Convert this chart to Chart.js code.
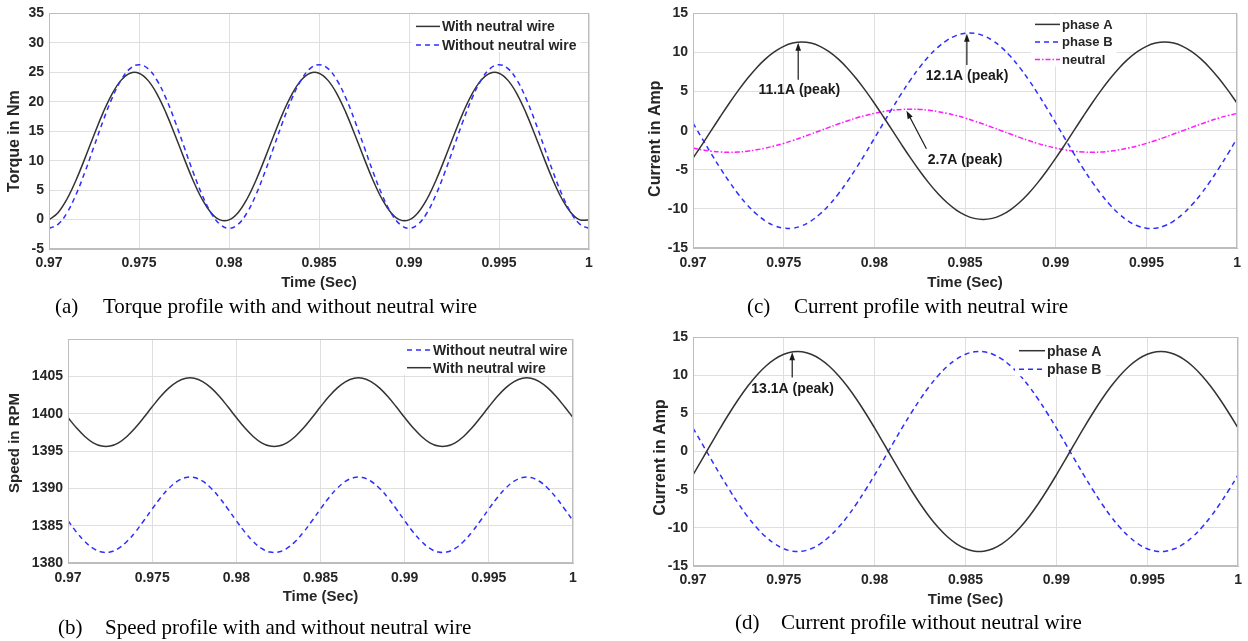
<!DOCTYPE html>
<html>
<head>
<meta charset="utf-8">
<script src="https://cdn.jsdelivr.net/npm/chart.js@4.4.1/dist/chart.umd.min.js"></script>
<style>
  html, body { margin: 0; background: #fff; }
  #page { position: relative; width: 1248px; height: 641px; overflow: hidden; }
  .panel { position: absolute; }
  .cap { position: absolute; font: 21px "Liberation Serif", "Times New Roman", serif; line-height: 24px; color: #000; white-space: nowrap; }
</style>
</head>
<body>
<div id="page">
  <div class="panel" style="left:0;top:0"><canvas id="torque" width="620" height="300"></canvas></div>
  <div class="panel" style="left:620px;top:0"><canvas id="withN" width="628" height="300"></canvas></div>
  <div class="panel" style="left:0;top:320px"><canvas id="speed" width="620" height="321"></canvas></div>
  <div class="panel" style="left:620px;top:320px"><canvas id="noN" width="628" height="321"></canvas></div>

  <div class="cap" style="left:55px;top:294px">(a)</div>
  <div class="cap" style="left:103px;top:294px">Torque profile with and without neutral wire</div>
  <div class="cap" style="left:58px;top:615px">(b)</div>
  <div class="cap" style="left:105px;top:615px">Speed profile with and without neutral wire</div>
  <div class="cap" style="left:747px;top:294px">(c)</div>
  <div class="cap" style="left:794px;top:294px">Current profile with neutral wire</div>
  <div class="cap" style="left:735px;top:610px">(d)</div>
  <div class="cap" style="left:781px;top:610px">Current profile without neutral wire</div>
</div>
<script>
// sample instants (s)
const time = [0.9700, 0.9705, 0.9710, 0.9715, 0.9720, 0.9725, 0.9730, 0.9735, 0.9740, 0.9745,
  0.9750, 0.9755, 0.9760, 0.9765, 0.9770, 0.9775, 0.9780, 0.9785, 0.9790, 0.9795,
  0.9800, 0.9805, 0.9810, 0.9815, 0.9820, 0.9825, 0.9830, 0.9835, 0.9840, 0.9845,
  0.9850, 0.9855, 0.9860, 0.9865, 0.9870, 0.9875, 0.9880, 0.9885, 0.9890, 0.9895,
  0.9900, 0.9905, 0.9910, 0.9915, 0.9920, 0.9925, 0.9930, 0.9935, 0.9940, 0.9945,
  0.9950, 0.9955, 0.9960, 0.9965, 0.9970, 0.9975, 0.9980, 0.9985, 0.9990, 0.9995, 1.0000];

const xTicks = [0.97, 0.975, 0.98, 0.985, 0.99, 0.995, 1];
const torqueTicks = [-5, 0, 5, 10, 15, 20, 25, 30, 35];
const speedTicks = [1380, 1385, 1390, 1395, 1400, 1405];
const currentTicks = [-15, -10, -5, 0, 5, 10, 15];

// (a) torque, Nm
const torqueWith = [-0.05, 1.17, 3.49, 6.68, 10.43, 14.37, 18.12, 21.31, 23.63, 24.85, 24.85, 23.63, 21.31, 18.12, 14.37, 10.43, 6.68, 3.49, 1.17, -0.05,
  -0.05, 1.17, 3.49, 6.68, 10.43, 14.37, 18.12, 21.31, 23.63, 24.85, 24.85, 23.63, 21.31, 18.12, 14.37, 10.43, 6.68, 3.49, 1.17, -0.05,
  -0.05, 1.17, 3.49, 6.68, 10.43, 14.37, 18.12, 21.31, 23.63, 24.85, 24.85, 23.63, 21.31, 18.12, 14.37, 10.43, 6.68, 3.49, 1.17, -0.05, -0.05];
const torqueWithout = [-1.5, -0.82, 1.15, 4.23, 8.10, 12.4, 16.70, 20.57, 23.65, 25.62, 26.3, 25.62, 23.65, 20.57, 16.70, 12.4, 8.10, 4.23, 1.15, -0.82,
  -1.5, -0.82, 1.15, 4.23, 8.10, 12.4, 16.70, 20.57, 23.65, 25.62, 26.3, 25.62, 23.65, 20.57, 16.70, 12.4, 8.10, 4.23, 1.15, -0.82,
  -1.5, -0.82, 1.15, 4.23, 8.10, 12.4, 16.70, 20.57, 23.65, 25.62, 26.3, 25.62, 23.65, 20.57, 16.70, 12.4, 8.10, 4.23, 1.15, -0.82, -1.5];

// (b) speed, RPM
const speedWithout = [1385.66, 1384.16, 1382.88, 1381.95, 1381.46, 1381.46, 1381.95, 1382.88, 1384.16, 1385.66, 1387.24, 1388.74, 1390.02, 1390.95, 1391.44, 1391.44, 1390.95, 1390.02, 1388.74, 1387.24,
  1385.66, 1384.16, 1382.88, 1381.95, 1381.46, 1381.46, 1381.95, 1382.88, 1384.16, 1385.66, 1387.24, 1388.74, 1390.02, 1390.95, 1391.44, 1391.44, 1390.95, 1390.02, 1388.74, 1387.24,
  1385.66, 1384.16, 1382.88, 1381.95, 1381.46, 1381.46, 1381.95, 1382.88, 1384.16, 1385.66, 1387.24, 1388.74, 1390.02, 1390.95, 1391.44, 1391.44, 1390.95, 1390.02, 1388.74, 1387.24, 1385.66];
const speedWith = [1399.48, 1398.11, 1396.95, 1396.10, 1395.66, 1395.66, 1396.10, 1396.95, 1398.11, 1399.48, 1400.92, 1402.29, 1403.45, 1404.30, 1404.74, 1404.74, 1404.30, 1403.45, 1402.29, 1400.92,
  1399.48, 1398.11, 1396.95, 1396.10, 1395.66, 1395.66, 1396.10, 1396.95, 1398.11, 1399.48, 1400.92, 1402.29, 1403.45, 1404.30, 1404.74, 1404.74, 1404.30, 1403.45, 1402.29, 1400.92,
  1399.48, 1398.11, 1396.95, 1396.10, 1395.66, 1395.66, 1396.10, 1396.95, 1398.11, 1399.48, 1400.92, 1402.29, 1403.45, 1404.30, 1404.74, 1404.74, 1404.30, 1403.45, 1402.29, 1400.92, 1399.48];

// (c) currents with neutral wire, A
const phaseA_c = [-3.51, -1.78, 0, 1.78, 3.51, 5.15, 6.67, 8.03, 9.18, 10.11, 10.79, 11.21, 11.35, 11.21, 10.79, 10.11, 9.18, 8.03, 6.67, 5.15, 3.51, 1.78, 0,
  -1.78, -3.51, -5.15, -6.67, -8.03, -9.18, -10.11, -10.79, -11.21, -11.35, -11.21, -10.79, -10.11, -9.18, -8.03, -6.67, -5.15, -3.51, -1.78, 0,
  1.78, 3.51, 5.15, 6.67, 8.03, 9.18, 10.11, 10.79, 11.21, 11.35, 11.21, 10.79, 10.11, 9.18, 8.03, 6.67, 5.15, 3.51];
const phaseB_c = [0.98, -0.98, -2.92, -4.78, -6.53, -8.12, -9.51, -10.66, -11.55, -12.16, -12.46,
  -12.46, -12.16, -11.55, -10.66, -9.51, -8.12, -6.53, -4.78, -2.92, -0.98,
  0.98, 2.92, 4.78, 6.53, 8.12, 9.51, 10.66, 11.55, 12.16, 12.46,
  12.46, 12.16, 11.55, 10.66, 9.51, 8.12, 6.53, 4.78, 2.92, 0.98,
  -0.98, -2.92, -4.78, -6.53, -8.12, -9.51, -10.66, -11.55, -12.16, -12.46,
  -12.46, -12.16, -11.55, -10.66, -9.51, -8.12, -6.53, -4.78, -2.92, -0.98];
const neutral_c = [-2.22, -2.45, -2.62, -2.72, -2.75, -2.72, -2.62, -2.45, -2.22, -1.94, -1.62, -1.25, -0.85, -0.43, 0,
  0.43, 0.85, 1.25, 1.62, 1.94, 2.22, 2.45, 2.62, 2.72, 2.75, 2.72, 2.62, 2.45, 2.22, 1.94, 1.62, 1.25, 0.85, 0.43, 0,
  -0.43, -0.85, -1.25, -1.62, -1.94, -2.22, -2.45, -2.62, -2.72, -2.75, -2.72, -2.62, -2.45, -2.22, -1.94, -1.62, -1.25, -0.85, -0.43, 0,
  0.43, 0.85, 1.25, 1.62, 1.94, 2.22];

// (d) currents without neutral wire, A
const phaseA_d = [-3.06, -1.03, 1.03, 3.06, 5.01, 6.84, 8.51, 9.96, 11.17, 12.10, 12.74, 13.06,
  13.06, 12.74, 12.10, 11.17, 9.96, 8.51, 6.84, 5.01, 3.06, 1.03,
  -1.03, -3.06, -5.01, -6.84, -8.51, -9.96, -11.17, -12.10, -12.74, -13.06,
  -13.06, -12.74, -12.10, -11.17, -9.96, -8.51, -6.84, -5.01, -3.06, -1.03,
  1.03, 3.06, 5.01, 6.84, 8.51, 9.96, 11.17, 12.10, 12.74, 13.06,
  13.06, 12.74, 12.10, 11.17, 9.96, 8.51, 6.84, 5.01, 3.06];
const phaseB_d = [3.06, 1.03, -1.03, -3.06, -5.01, -6.84, -8.51, -9.96, -11.17, -12.10, -12.74, -13.06,
  -13.06, -12.74, -12.10, -11.17, -9.96, -8.51, -6.84, -5.01, -3.06, -1.03,
  1.03, 3.06, 5.01, 6.84, 8.51, 9.96, 11.17, 12.10, 12.74, 13.06,
  13.06, 12.74, 12.10, 11.17, 9.96, 8.51, 6.84, 5.01, 3.06, 1.03,
  -1.03, -3.06, -5.01, -6.84, -8.51, -9.96, -11.17, -12.10, -12.74, -13.06,
  -13.06, -12.74, -12.10, -11.17, -9.96, -8.51, -6.84, -5.01, -3.06];

// peak call-outs: label anchor, arrow tail, arrow tip (time, value)
const notesC = [
  { text: '11.1A (peak)', at: [0.97586, 5.2], from: [0.9758, 6.5], to: [0.9758, 11.25] },
  { text: '12.1A (peak)', at: [0.98511, 7.0], from: [0.9851, 8.4], to: [0.9851, 12.4] },
  { text: '2.7A (peak)', at: [0.9850, -3.8], from: [0.98287, -2.3], to: [0.98177, 2.55] },
];
const notesD = [
  { text: '13.1A (peak)', at: [0.97548, 8.2], from: [0.97546, 9.7], to: [0.97546, 13.0] },
];

const FONT = '"Liberation Sans", Arial, sans-serif';
const C_TEXT = '#262626', C_GRID = '#dfdfdf', C_BOX = '#bdbdbd';
const BLACK = '#333333', BLUE = '#2e2eff', MAGENTA = '#ff1aff';

// frame on all four sides, y title, in-axes legend and arrow call-outs
const boxPlugin = {
  id: 'box',
  afterDatasetsDraw(chart, args, o) {
    const { ctx, chartArea: a, scales: { x, y } } = chart;
    ctx.save();
    (o.notes || []).forEach(n => {
      const x0 = x.getPixelForValue(n.from[0]), y0 = y.getPixelForValue(n.from[1]);
      const x1 = x.getPixelForValue(n.to[0]), y1 = y.getPixelForValue(n.to[1]);
      const ang = Math.atan2(y1 - y0, x1 - x0), L = 8, W = 2.8;
      ctx.strokeStyle = ctx.fillStyle = '#1a1a1a'; ctx.lineWidth = 1.2;
      ctx.beginPath(); ctx.moveTo(x0, y0); ctx.lineTo(x1 - 4 * Math.cos(ang), y1 - 4 * Math.sin(ang)); ctx.stroke();
      ctx.beginPath(); ctx.moveTo(x1, y1);
      ctx.lineTo(x1 - L * Math.cos(ang) + W * Math.sin(ang), y1 - L * Math.sin(ang) - W * Math.cos(ang));
      ctx.lineTo(x1 - L * Math.cos(ang) - W * Math.sin(ang), y1 - L * Math.sin(ang) + W * Math.cos(ang));
      ctx.closePath(); ctx.fill();
      ctx.font = 'bold 14px ' + FONT; ctx.textAlign = 'center'; ctx.textBaseline = 'middle';
      ctx.fillText(n.text, x.getPixelForValue(n.at[0]), y.getPixelForValue(n.at[1]));
    });
    const lg = o.legend, sets = chart.data.datasets;
    if (lg) {
      ctx.font = `bold ${lg.size}px ${FONT}`;
      const tw = Math.max(...sets.map(d => ctx.measureText(d.label).width));
      const x0 = a.left + lg.left, y0 = a.top + lg.top;
      ctx.fillStyle = '#fff';
      ctx.fillRect(x0 - 4, a.top + 1, lg.len + tw + 10, lg.top + lg.row * (sets.length - 1) + 6);
      sets.forEach((d, i) => {
        const yy = y0 + i * lg.row;
        ctx.strokeStyle = d.borderColor; ctx.lineWidth = d.borderWidth; ctx.setLineDash(d.borderDash || []);
        ctx.beginPath(); ctx.moveTo(x0, yy); ctx.lineTo(x0 + lg.len, yy); ctx.stroke();
        ctx.setLineDash([]);
        ctx.fillStyle = C_TEXT; ctx.textAlign = 'left'; ctx.textBaseline = 'middle';
        ctx.fillText(d.label, x0 + lg.len + 2, yy + 1);
      });
    }
    const t = o.ytitle;
    if (t) {
      ctx.save();
      ctx.translate(t.x, (a.top + a.bottom) / 2 + t.dy); ctx.rotate(-Math.PI / 2);
      ctx.font = `bold ${t.size}px ${FONT}`; ctx.fillStyle = C_TEXT; ctx.textAlign = 'center'; ctx.textBaseline = 'middle';
      ctx.fillText(t.text, 0, 0);
      ctx.restore();
    }
    ctx.strokeStyle = C_BOX; ctx.lineWidth = 1;
    ctx.strokeRect(Math.round(a.left) + 0.5, Math.round(a.top) + 0.5, Math.round(a.width) - 1, Math.round(a.height) - 1);
    ctx.restore();
  }
};

function plot(id, series, o) {
  const tickFont = { family: FONT, size: 14, weight: 'bold' };
  const titleFont = { family: FONT, size: 15, weight: 'bold' };
  return new Chart(document.getElementById(id), {
    type: 'line',
    data: {
      datasets: series.map(s => ({
        label: s.label, data: time.map((t, i) => ({ x: t, y: s.values[i] })),
        borderColor: s.color, borderWidth: 1.5, borderDash: s.dash || [], order: s.order || 0,
        pointRadius: 0, tension: 0.4, fill: false,
      })),
    },
    options: {
      responsive: false, animation: false, events: [],
      layout: { padding: o.pad },
      plugins: { legend: { display: false }, tooltip: { enabled: false }, box: { legend: o.legend, notes: o.notes, ytitle: o.ytitle } },
      scales: {
        x: {
          type: 'linear', min: 0.97, max: 1,
          afterBuildTicks: s => { s.ticks = xTicks.map(v => ({ value: v })); },
          afterFit: s => { s.height = o.xh; },
          grid: { color: C_GRID, drawTicks: false }, border: { color: C_BOX },
          ticks: { padding: o.xpad, font: tickFont, color: C_TEXT, maxRotation: 0, callback: v => String(+v.toFixed(3)) },
          title: { display: true, text: 'Time (Sec)', font: titleFont, color: C_TEXT, padding: { top: 0, bottom: o.tpad } },
        },
        y: {
          type: 'linear', min: o.min, max: o.max,
          afterBuildTicks: s => { s.ticks = o.yTicks.map(v => ({ value: v })); },
          afterFit: s => { s.width = o.yw; },
          grid: { color: C_GRID, drawTicks: false }, border: { color: C_BOX },
          ticks: { padding: 5, font: tickFont, color: C_TEXT, callback: v => String(v) },
        },
      },
    },
    plugins: [boxPlugin],
  });
}

plot('torque', [
  { label: 'With neutral wire', values: torqueWith, color: BLACK, order: 1 },
  { label: 'Without neutral wire', values: torqueWithout, color: BLUE, dash: [5, 4], order: 0 },
], { min: -5, max: 35, yTicks: torqueTicks, pad: { left: 0, right: 31, top: 11, bottom: 0 },
  ytitle: { text: 'Torque in Nm', x: 15, dy: 10, size: 16 },
  yw: 49, xh: 51, xpad: 6, tpad: 8, legend: { left: 367, top: 13, row: 18.5, len: 24, size: 14 } });

plot('speed', [
  { label: 'Without neutral wire', values: speedWithout, color: BLUE, dash: [5, 4] },
  { label: 'With neutral wire', values: speedWith, color: BLACK },
], { min: 1380, max: 1410, yTicks: speedTicks, pad: { left: 0, right: 47, top: 19, bottom: 0 },
  ytitle: { text: 'Speed in RPM', x: 15, dy: -8, size: 15 },
  yw: 68, xh: 78, xpad: 7, tpad: 35, legend: { left: 339, top: 11, row: 17.7, len: 24, size: 14 } });

plot('withN', [
  { label: 'phase A', values: phaseA_c, color: BLACK },
  { label: 'phase B', values: phaseB_c, color: BLUE, dash: [5, 4] },
  { label: 'neutral', values: neutral_c, color: MAGENTA, dash: [5, 2, 1.5, 2] },
], { min: -15, max: 15, yTicks: currentTicks, pad: { left: 0, right: 7, top: 12, bottom: 0 },
  ytitle: { text: 'Current in Amp', x: 36, dy: 8, size: 16 },
  yw: 73, xh: 52, xpad: 7, tpad: 8, legend: { left: 342, top: 11, row: 17.5, len: 25, size: 13 }, notes: notesC });

plot('noN', [
  { label: 'phase A', values: phaseA_d, color: BLACK },
  { label: 'phase B', values: phaseB_d, color: BLUE, dash: [5, 4] },
], { min: -15, max: 15, yTicks: currentTicks, pad: { left: 0, right: 7, top: 17, bottom: 0 },
  ytitle: { text: 'Current in Amp', x: 41, dy: 6, size: 16 },
  yw: 73, xh: 75, xpad: 6, tpad: 32, legend: { left: 326, top: 13.7, row: 18.6, len: 26, size: 14 }, notes: notesD });
</script>
</body>
</html>
